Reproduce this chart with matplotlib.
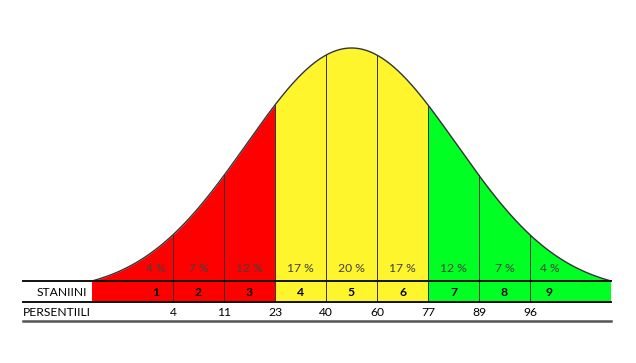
import numpy as np
import matplotlib
matplotlib.use("Agg")
import matplotlib.pyplot as plt

# ---- data ----
stanines = [1, 2, 3, 4, 5, 6, 7, 8, 9]
percentages = [4, 7, 12, 17, 20, 17, 12, 7, 4]
percentiles = [4, 11, 23, 40, 60, 77, 89, 96]
stanine_groups = ["low", "low", "low", "mid", "mid", "mid", "high", "high", "high"]
row_labels = ["STANIINI", "PERSENTIILI"]

# ---- style ----
group_colors = {"low": "#FF0000", "mid": "#FFF52C", "high": "#00FF22"}
FONT = ["Lato", "DejaVu Sans"]
W, H = 636, 363

# stanine boundaries in SD units (each stanine is 0.5 SD wide)
bounds = np.arange(-1.75, 1.76, 0.5)
tail = 2.545
edges = np.concatenate([[-tail], bounds, [tail]])
SIG = 1.03
c0 = np.exp(-tail**2 / (2 * SIG**2))

def curve(z):
    return (np.exp(-z**2 / (2 * SIG**2)) - c0) / (1 - c0)

# pixel mapping: center x=351.5, 1 SD = 102 px ; baseline y=281 ; peak 233 px
CX, SD = 351.5, 102.0
BASE = 281
PEAK = 233.0

fig = plt.figure(figsize=(W / 100, H / 100), dpi=100)
ax = fig.add_axes([0, 0, 1, 1])
ax.set_xlim(-CX / SD, (W - CX) / SD)
ax.set_ylim(-(H - BASE), BASE)
ax.axis("off")

def py(ypix):
    return BASE - ypix

row1_bot = py(302)
row2_bot = py(321)
left_z = (23 - CX) / SD

# filled regions
for i in range(9):
    z = np.linspace(edges[i], edges[i + 1], 100)
    col = group_colors[stanine_groups[i]]
    ax.fill_between(z, 0, PEAK * curve(z), color=col, lw=0, zorder=1)
    ax.fill_between([edges[i], edges[i + 1]], row1_bot, 0, color=col, lw=0, zorder=1)

# curve outline
zz = np.linspace(-tail, tail, 800)
ax.plot(zz, PEAK * curve(zz), color="#333333", lw=1.0, zorder=3)

# boundary lines
for b in bounds:
    ax.plot([b, b], [row1_bot, PEAK * curve(b)], color="#333333", lw=0.7, zorder=2)

# table lines
ax.plot([left_z, tail], [0, 0], color="#111111", lw=1.4, zorder=4)
ax.plot([left_z, tail], [row1_bot, row1_bot], color="#111111", lw=1.4, zorder=4)
ax.plot([left_z, tail], [row2_bot, row2_bot], color="#555555", lw=1.8, zorder=4)

# label positions (centers of stanine cells; end cells nearer inner boundary)
centers = [(edges[i] + edges[i + 1]) / 2 for i in range(9)]
centers[0] = bounds[0] - 0.17
centers[-1] = bounds[-1] + 0.19

for cx, p in zip(centers, percentages):
    ax.text(cx, py(269), f"{p} %", ha="center", va="center", fontsize=8.7,
            color="#404040", family=FONT, zorder=5)
for cx, s in zip(centers, stanines):
    ax.text(cx, py(292), str(s), ha="center", va="center", fontsize=8.7,
            fontweight="bold", color="black", family=FONT, zorder=5)
for b, p in zip(bounds, percentiles):
    ax.text(b, py(312), str(p), ha="center", va="center", fontsize=8.7,
            color="black", family=FONT, zorder=5)

ax.text((87 - CX) / SD, py(292), row_labels[0], ha="right", va="center",
        fontsize=8.7, color="black", family=FONT, zorder=5)
ax.text(left_z, py(312), row_labels[1], ha="left", va="center",
        fontsize=8.7, color="black", family=FONT, zorder=5)

fig.savefig("out.png", dpi=100)
